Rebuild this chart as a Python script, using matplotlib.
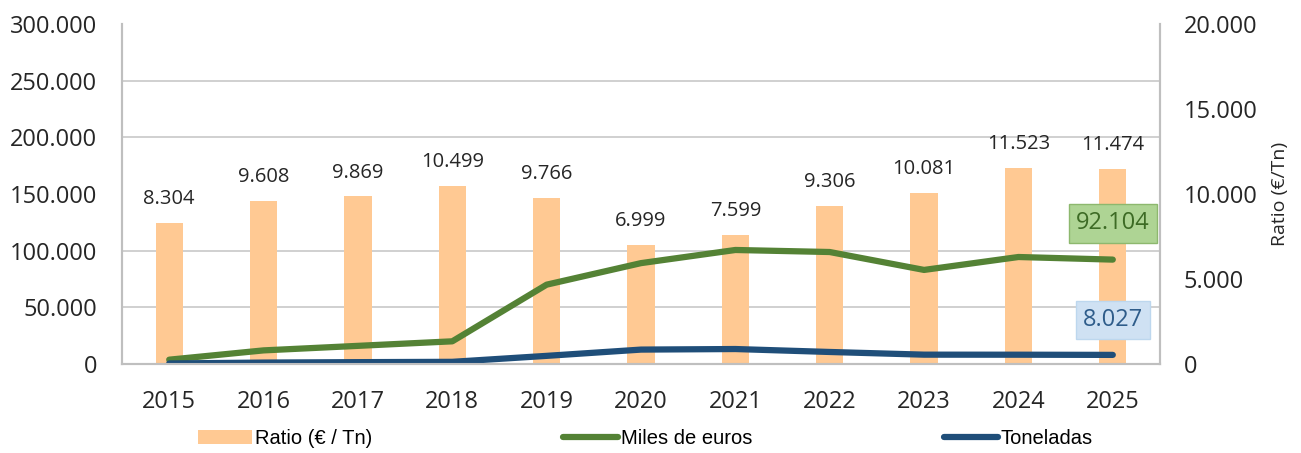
import numpy as np
import matplotlib.pyplot as plt
from matplotlib.ticker import FuncFormatter

years = ["2015", "2016", "2017", "2018", "2019", "2020", "2021", "2022", "2023", "2024", "2025"]
ratio = [8304, 9608, 9869, 10499, 9766, 6999, 7599, 9306, 10081, 11523, 11474]
miles_euros = [3800, 12000, 16000, 20000, 70000, 89000, 100600, 98800, 83000, 94400, 92104]
toneladas = [460, 1250, 1620, 1900, 7170, 12700, 13200, 10600, 8230, 8190, 8027]

bar_col = "#FFC993"
green = "#548235"
blue = "#1F4E79"
grid_col = "#C8C8C8"
txt_col = "#262626"


def miles(v, pos=None):
    return f"{int(round(v)):,}".replace(",", ".")


plt.rcParams['font.family'] = ['Open Sans', 'DejaVu Sans']

fig = plt.figure(figsize=(13.01, 4.53), dpi=100)
ax = fig.add_axes([0.0938, 0.1965, 0.7978, 0.7505])
ax2 = ax.twinx()

x = np.arange(len(years))

# bars on the right axis (drawn behind), lines on the left axis
ax2.bar(x, ratio, width=0.29, color=bar_col, zorder=2, label="Ratio (€ / Tn)")

ax.set_zorder(ax2.get_zorder() + 1)
ax.patch.set_visible(False)
ax.plot(x, miles_euros, color=green, lw=4.5, solid_capstyle="round", label="Miles de euros")
ax.plot(x, toneladas, color=blue, lw=4.5, solid_capstyle="round", label="Toneladas")

ax.set_xlim(-0.5, len(years) - 0.5)
ax.set_ylim(0, 300000)
ax.set_yticks(np.arange(0, 300001, 50000))
ax.yaxis.set_major_formatter(FuncFormatter(miles))
ax2.set_ylim(0, 20000)
ax2.set_yticks(np.arange(0, 20001, 5000))
ax2.yaxis.set_major_formatter(FuncFormatter(miles))
ax2.set_ylabel("Ratio (€/Tn)", fontsize=14, labelpad=10, color=txt_col)

# gridlines follow the left axis steps but sit behind the bars
ax2.set_yticks(np.linspace(0, 20000, 7), minor=True)
ax2.grid(axis="y", which="minor", color=grid_col, lw=1.2, zorder=0)
ax2.set_axisbelow(True)

ax.set_xticks(x)
ax.set_xticklabels(years)

for xi, r in zip(x, ratio):
    ax.annotate(miles(r), (xi, r), xycoords=ax2.transData, xytext=(0, 17),
                textcoords="offset points", ha="center", va="center", fontsize=14.5, color=txt_col)

for a in (ax, ax2):
    a.tick_params(which="both", length=0, labelsize=17, colors=txt_col)
    a.spines["top"].set_visible(False)
    for s in ("left", "right", "bottom"):
        a.spines[s].set_color("#BFBFBF")
        a.spines[s].set_linewidth(1.5)
ax.tick_params(axis="x", pad=19)
ax.tick_params(axis="y", pad=18)
ax2.tick_params(axis="y", pad=17)

# last-value boxes
ax.annotate(miles(miles_euros[-1]), (x[-1], miles_euros[-1]), xytext=(0, 26),
            textcoords="offset points", ha="center", va="center", fontsize=17, color="#3D6B25",
            bbox=dict(boxstyle="square,pad=0.3", fc="#AED494", ec="#8DB86E"))
ax.annotate(miles(toneladas[-1]), (x[-1], toneladas[-1]), xytext=(0, 25),
            textcoords="offset points", ha="center", va="center", fontsize=17, color="#2E5C8A",
            bbox=dict(boxstyle="square,pad=0.3", fc="#CFE1F3", ec="#BDD7EE"))

h1, l1 = ax2.get_legend_handles_labels()
h2, l2 = ax.get_legend_handles_labels()
fig.legend(h1 + h2, l1 + l2, loc="lower center", bbox_to_anchor=(0.496, -0.03), ncol=3,
           frameon=False, columnspacing=9.5, handlelength=2.7, handletextpad=0.15,
           prop={"family": ["Liberation Sans", "DejaVu Sans"], "size": 14.5})

fig.savefig("out.png", dpi=100)
